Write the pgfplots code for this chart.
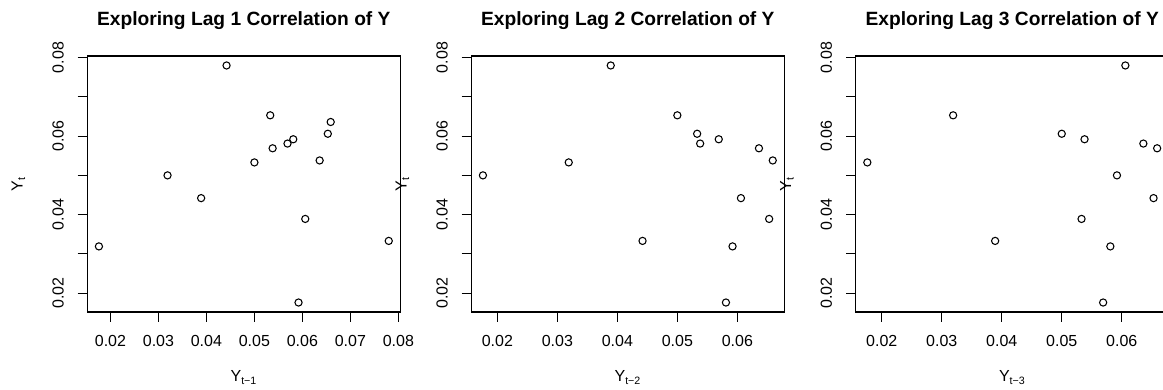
\documentclass[border=0pt]{standalone}
\usepackage{pgfplots}
\pgfplotsset{compat=1.18}
\usepackage{fontspec}
\setmainfont{Liberation Sans}

\pgfplotstableread{
x y
0.0659 0.0636
0.0636 0.0538
0.0538 0.0569
0.0569 0.0581
0.0581 0.0592
0.0592 0.0176
0.0176 0.0319
0.0319 0.0500
0.0500 0.0533
0.0533 0.0653
0.0653 0.0606
0.0606 0.0389
0.0389 0.0442
0.0442 0.0780
0.0780 0.0333
}\lagone
\pgfplotstableread{
x y
0.0659 0.0538
0.0636 0.0569
0.0538 0.0581
0.0569 0.0592
0.0581 0.0176
0.0592 0.0319
0.0176 0.0500
0.0319 0.0533
0.0500 0.0653
0.0533 0.0606
0.0653 0.0389
0.0606 0.0442
0.0389 0.0780
0.0442 0.0333
}\lagtwo
\pgfplotstableread{
x y
0.0659 0.0569
0.0636 0.0581
0.0538 0.0592
0.0569 0.0176
0.0581 0.0319
0.0592 0.0500
0.0176 0.0533
0.0319 0.0653
0.0500 0.0606
0.0533 0.0389
0.0653 0.0442
0.0606 0.0780
0.0389 0.0333
}\lagthree

\pgfplotsset{
  rstyle/.style={
    scale only axis, width=234.75pt, height=192pt,
    anchor=south west,
    ymin=0.015184, ymax=0.080416,
    ytick={0.02,0.03,0.04,0.05,0.06,0.07,0.08},
    yticklabels={0.02,,0.04,,0.06,,0.08},
    scaled ticks=false,
    tick align=outside, xtick pos=bottom, ytick pos=left,
    major tick length=7.2pt,
    every tick/.style={black, line width=0.8pt},
    axis line style={black, line width=0.8pt},
    tick label style={font=\fontsize{12}{14}\selectfont},
    xticklabel style={anchor=north, inner sep=0pt, yshift=-10.05pt},
    yticklabel style={xshift=-10.3pt, rotate=90, anchor=south, inner sep=0pt},
    every axis x label/.style={at={(axis description cs:0.5,-0.2723)}, anchor=base, font=\fontsize{12}{14}\selectfont},
    every axis y label/.style={at={(axis description cs:-0.2064,0.5)}, rotate=90, anchor=base, font=\fontsize{12}{14}\selectfont},
    every axis title/.style={at={(axis description cs:0.5,1.121)}, anchor=base, font=\bfseries\fontsize{14.4}{17}\selectfont},
    ylabel={Y\textsubscript{t}},
    clip=false,
  },
  rmark/.style={only marks, mark=o, mark size=2.7pt, mark options={black, line width=0.8pt}},
}

\begin{document}
\begin{tikzpicture}
\useasboundingbox (0,0) rectangle (872.25pt,291.75pt);
\begin{axis}[rstyle, at={(65.5pt,57.75pt)},
  xmin=0.015184, xmax=0.080416,
  xtick={0.02,0.03,0.04,0.05,0.06,0.07,0.08},
  xticklabels={0.02,0.03,0.04,0.05,0.06,0.07,0.08},
  title={Exploring Lag 1 Correlation of Y},
  xlabel={Y\textsubscript{t−1}}]
\addplot[rmark] table[x=x,y=y] {\lagone};
\end{axis}
\begin{axis}[rstyle, at={(353.5pt,57.75pt)},
  xmin=0.015668, xmax=0.067832,
  xtick={0.02,0.03,0.04,0.05,0.06},
  xticklabels={0.02,0.03,0.04,0.05,0.06},
  title={Exploring Lag 2 Correlation of Y},
  xlabel={Y\textsubscript{t−2}}]
\addplot[rmark] table[x=x,y=y] {\lagtwo};
\end{axis}
\begin{axis}[rstyle, at={(641.8pt,57.75pt)},
  xmin=0.015668, xmax=0.067832,
  xtick={0.02,0.03,0.04,0.05,0.06},
  xticklabels={0.02,0.03,0.04,0.05,0.06},
  title={Exploring Lag 3 Correlation of Y},
  xlabel={Y\textsubscript{t−3}}]
\addplot[rmark] table[x=x,y=y] {\lagthree};
\end{axis}
\end{tikzpicture}
\end{document}
